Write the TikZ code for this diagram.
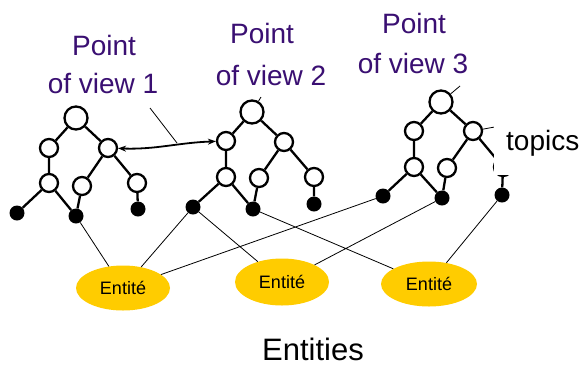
\documentclass[tikz,border=0pt]{standalone}
\usepackage{fontspec}
\setmainfont{Liberation Sans}
\usetikzlibrary{shapes.geometric,arrows.meta}
\definecolor{povpurple}{HTML}{3A0F72}
\definecolor{entgold}{HTML}{FFCC00}
\begin{document}
\begin{tikzpicture}[x=1bp,y=-1bp,
  topic/.style={circle,draw,line width=2.3bp,fill=white,minimum size=18bp,inner sep=0},
  rootnode/.style={topic,minimum size=23bp},
  leaf/.style={circle,fill=black,minimum size=15bp,inner sep=0},
  branch/.style={line width=2.3bp},
  link/.style={line width=0.8bp},
  entity/.style={ellipse,fill=entgold,inner sep=0,minimum width=94bp,minimum height=45bp,
    font=\fontsize{18bp}{20bp}\selectfont},
  pov/.style={text=povpurple,font=\fontsize{28bp}{32bp}\selectfont,anchor=base,inner sep=0},
  caption/.style={font=\fontsize{28bp}{32bp}\selectfont,anchor=base,inner sep=0},
]
\useasboundingbox[fill=white] (0,0) rectangle (580,367);

% ---- labels of the three points of view
\node[pov] (pov1a) at (104,55) {Point};
\node[pov] (pov1b) at (103,93) {of view 1};
\node[pov] (pov2a) at (262,43) {Point};
\node[pov] (pov2b) at (271,85) {of view 2};
\node[pov] (pov3a) at (414,33) {Point};
\node[pov] (pov3b) at (413,73) {of view 3};

% ---- tree 1
\node[rootnode] (t1root) at (76,118) {};
\node[topic] (t1L)  at (49,148) {};
\node[topic] (t1R)  at (108,148) {};
\node[topic] (t1LL) at (49,183) {};
\node[topic] (t1RL) at (82,186) {};
\node[topic] (t1RR) at (137,183) {};
\node[leaf]  (t1a)  at (17,213) {};
\node[leaf]  (t1b)  at (76,216) {};
\node[leaf]  (t1c)  at (138,209) {};
\draw[branch] (t1root) -- (t1L) (t1root) -- (t1R)
  (t1L) -- (t1LL) (t1R) -- (t1RL) (t1R) -- (t1RR)
  (t1LL) -- (t1a) (t1LL) -- (t1b) (t1RL) -- (t1b) (t1RR) -- (t1c);

% ---- tree 2
\node[rootnode] (t2root) at (252,112) {};
\node[topic] (t2L)  at (226,141) {};
\node[topic] (t2R)  at (284,142) {};
\node[topic] (t2LL) at (226,177) {};
\node[topic] (t2RL) at (259,178) {};
\node[topic] (t2RR) at (314,177) {};
\node[leaf]  (t2a)  at (193,207) {};
\node[leaf]  (t2b)  at (253,209) {};
\node[leaf]  (t2c)  at (314,204) {};
\draw[branch] (t2root) -- (t2L) (t2root) -- (t2R)
  (t2L) -- (t2LL) (t2R) -- (t2RL) (t2R) -- (t2RR)
  (t2LL) -- (t2a) (t2LL) -- (t2b) (t2RL) -- (t2b) (t2RR) -- (t2c);

% ---- tree 3
\node[rootnode] (t3root) at (441,102) {};
\node[topic] (t3L)  at (414,131) {};
\node[topic] (t3R)  at (473,131) {};
\node[topic] (t3LL) at (414,167) {};
\node[topic] (t3RL) at (447,168) {};
\node[topic] (t3RR) at (503,167) {};
\node[leaf]  (t3a)  at (383,196) {};
\node[leaf]  (t3b)  at (442,198) {};
\node[leaf]  (t3c)  at (502,195) {};
\draw[branch] (t3root) -- (t3L) (t3root) -- (t3R)
  (t3L) -- (t3LL) (t3R) -- (t3RL) (t3R) -- (t3RR)
  (t3LL) -- (t3a) (t3LL) -- (t3b) (t3RL) -- (t3b) (t3RR) -- (t3c);

% ---- link between two points of view
\draw[line width=1.8bp,{Stealth[length=8bp,width=6bp]}-{Stealth[length=8bp,width=6bp]}]
  (t1R) to[out=-2,in=182] (t2L);
\coordinate (lead1a) at (150,108);
\coordinate (lead1b) at (177,143);
\draw[link] (lead1a) -- (lead1b);
\coordinate (tick2) at (261,97);
\coordinate (tick3) at (460,86);
\coordinate (tickt) at (500,126);
\draw[link] (t2root) -- (tick2);
\draw[link] (t3root) -- (tick3);
\draw[link] (t3R) -- (tickt);

% ---- entities
\node[entity] (e1) at (123,288) {Entité};
\node[entity,minimum height=47bp] (e2) at (282,282) {Entité};
\node[entity,minimum width=96bp] (e3) at (429,284) {Entité};
\draw[link] (t1b) -- (e1) (t2a) -- (e1) (t3a) -- (e1)
  (t2a) -- (e2) (t3b) -- (e2)
  (t2b) -- (e3) (t3c) -- (e3);

% ---- captions
\node[caption,fill=white,inner xsep=12bp,inner ysep=8bp,text height=20bp,text depth=17bp,anchor=base west]
  (topics) at (494,150) {topics};
\node[caption,font=\fontsize{31bp}{34bp}\selectfont] (entities) at (313,360) {Entities};
\end{tikzpicture}
\end{document}
